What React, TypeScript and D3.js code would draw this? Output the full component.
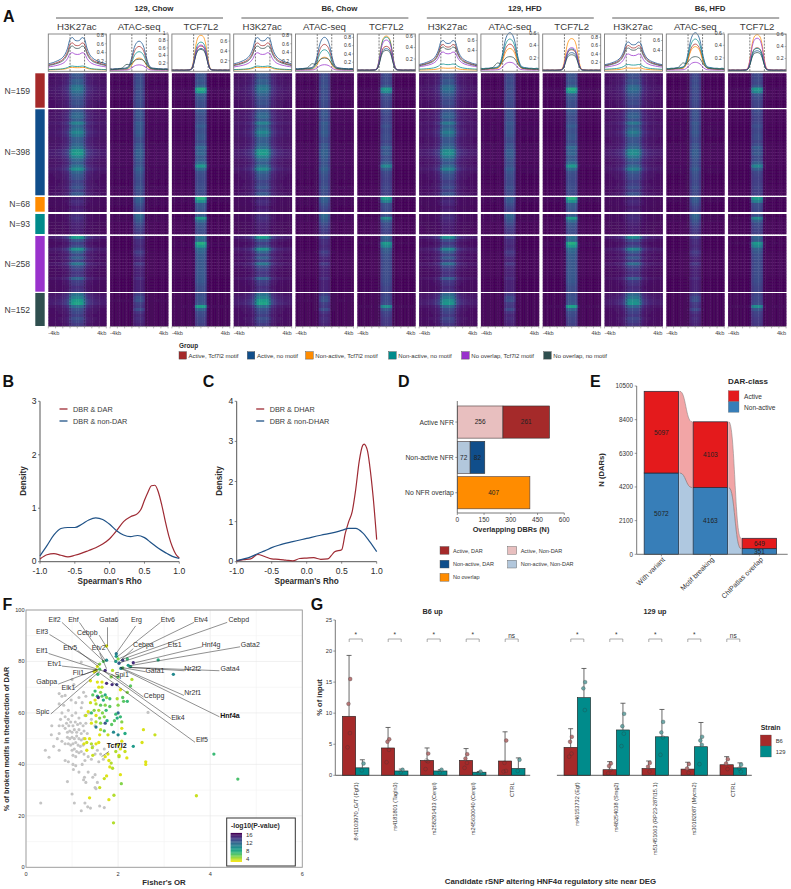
import React from "react";
import * as d3 from "d3";

// ---------- Panel A data ----------
const conditions = ["129, Chow", "B6, Chow", "129, HFD", "B6, HFD"];
const assays = ["H3K27ac", "ATAC-seq", "TCF7L2"];
const groupNames = ["Active, Tcf7l2 motif", "Active, no motif", "Non-active, Tcf7l2 motif", "Non-active, no motif", "No overlap, Tcf7l2 motif", "No overlap, no motif"];
const groupColors = ["#A52A2A", "#104E8B", "#FF8C00", "#008B8B", "#9932CC", "#2F4F4F"];
const groupN = ["N=159", "N=398", "N=68", "N=93", "N=258", "N=152"];
// per-box: peak by group
const peaks = [
  [.62, .74, .07, .1, .4, .55], [.64, .78, .33, .5, .15, .3], [.5, .45, .72, .58, .52, .43],
  [.62, .74, .07, .1, .4, .55], [.63, .8, .32, .5, .14, .3], [.42, .38, .6, .58, .53, .35],
  [.52, .6, .05, .13, .37, .47], [.42, .6, .35, .5, .13, .22], [.5, .43, .77, .52, .55, .38],
  [.5, .57, .05, .12, .33, .45], [.42, .6, .38, .5, .13, .22], [.38, .33, .6, .37, .54, .3],
];
const boxMax = [.82, .97, .745, .82, .88, .635, .73, .58, .88, .73, .58, .61];
const boxTicks = [
  [.2, .4, .6, .8], [.2, .4, .6, .8, 1], [.2, .4, .6], [.2, .4, .6, .8], [.2, .4, .6, .8], [.2, .4, .6],
  [.4, .6], [.2, .4, .6], [.2, .4, .6, .8], [.4, .6], [.2, .4, .6], [.2, .4, .6],
];
const kbPositions = [-4, -3.667, -3.333, -3, -2.667, -2.333, -2, -1.667, -1.333, -1, -.667, -.333, 0, .333, .667, 1, 1.333, 1.667, 2, 2.333, 2.667, 3, 3.333, 3.667, 4];
const h3Shape = [.2, .22, .24, .27, .3, .34, .4, .5, .68, .95, 1, .92, .9, .92, 1, .95, .68, .5, .4, .34, .3, .27, .24, .22, .2];
const atacShape = [.06, .05, .06, .06, .07, .07, .08, .1, .2, .45, .78, .95, 1, .95, .78, .45, .2, .1, .08, .07, .06, .06, .05, .06, .05];
const atacShapeDark = [.08, .08, .1, .12, .16, .22, .42, .55, .5, .62, .85, .97, 1, .97, .85, .55, .3, .18, .14, .12, .12, .1, .1, .09, .08];
const tcfShape = [.015, .01, .015, .01, .015, .01, .015, .02, .05, .3, .75, .96, 1, .96, .75, .3, .05, .02, .015, .01, .015, .01, .015, .01, .015];
const h3Col = [.12, .12, .13, .14, .16, .18, .22, .28, .38, .72, .95, 1, 1, 1, .95, .72, .38, .28, .22, .18, .16, .14, .13, .12, .12];
const atacCol = [.02, .02, .02, .02, .02, .02, .02, .02, .03, .05, .75, 1, 1, 1, .75, .05, .03, .02, .02, .02, .02, .02, .02, .02, .02];
const tcfCol = [.01, .01, .01, .01, .01, .01, .01, .01, .01, .1, .85, 1, 1, 1, .85, .1, .01, .01, .01, .01, .01, .01, .01, .01, .01];
const h3Rows = [
  [.3, .28, .34, .32, .42, .46, .4, .34, .3, .27, .28, .24],
  [.3, .36, .38, .32, .5, .36, .42, .52, .44, .34, .32, .36, .42, .6, .62, .5, .38, .32, .42, .56, .36, .3, .28, .22, .24, .28, .22, .3],
  [.1, .14, .12, .08, .1],
  [.14, .16, .12, .1, .09, .08, .08],
  [.62, .3, .2, .26, .58, .36, .24, .34, .22, .44, .26, .2, .16, .18, .36, .2, .18, .14, .16],
  [.42, .5, .62, .66, .4, .28, .24, .2, .26, .22, .18],
];
const atacRows = [
  [.24, .25, .27, .26, .28, .27, .27, .25, .26, .26, .25, .24],
  [.28, .3, .29, .27, .32, .3, .3, .32, .3, .27, .26, .3, .3, .34, .34, .32, .3, .28, .3, .34, .3, .28, .27, .25, .26, .28, .26, .25],
  [.34, .32, .28, .24, .22],
  [.38, .36, .3, .26, .22, .2, .18],
  [.2, .14, .14, .12, .14, .2, .16, .12, .1, .18, .12, .1, .1, .1, .14, .1, .1, .1, .1],
  [.2, .26, .28, .2, .18, .26, .16, .12, .14, .12, .1],
];
const tcfRows = [
  [.28, .28, .3, .28, .36, .72, .62, .34, .3, .28, .27, .26],
  [.3, .28, .26, .26, .28, .32, .28, .28, .3, .3, .26, .3, .38, .34, .36, .3, .32, .4, .62, .4, .28, .26, .25, .24, .25, .26, .25, .24],
  [.74, .58, .32, .3, .28],
  [.3, .64, .4, .3, .28, .26, .25],
  [.42, .38, .72, .62, .4, .36, .32, .32, .3, .3, .3, .3, .3, .3, .3, .3, .28, .26, .26],
  [.26, .28, .28, .3, .66, .36, .26, .24, .22, .22, .2],
];
const assayRows = [h3Rows, atacRows, tcfRows];
const conditionScale = [[.86, .85, .85], [.86, .85, .73], [.78, .8, .85], [.76, .8, .72]];

// ---------- Panel B / C ----------
const bRed: [number, number][] = [[-1, .05], [-.9, .13], [-.8, .15], [-.7, .12], [-.6, .09], [-.5, .12], [-.4, .16], [-.3, .21], [-.2, .26], [-.1, .33], [0, .43], [.1, .58], [.2, .75], [.3, .84], [.4, .9], [.45, .98], [.5, 1.15], [.55, 1.3], [.6, 1.42], [.65, 1.43], [.7, 1.3], [.75, 1.05], [.8, .75], [.85, .48], [.9, .28], [.95, .14], [1, .07]];
const bBlue: [number, number][] = [[-1, .11], [-.9, .3], [-.8, .5], [-.7, .62], [-.6, .64], [-.5, .64], [-.4, .7], [-.3, .78], [-.2, .82], [-.1, .79], [0, .7], [.1, .58], [.2, .5], [.3, .47], [.4, .49], [.5, .45], [.6, .35], [.7, .25], [.8, .17], [.9, .1], [1, .06]];
const cRed: [number, number][] = [[-1, .02], [-.9, .05], [-.8, .07], [-.7, .18], [-.6, .13], [-.5, .07], [-.4, .06], [-.3, .04], [-.2, .02], [-.1, .08], [0, .09], [.1, .1], [.2, .06], [.3, .07], [.35, .15], [.4, .25], [.5, .3], [.55, .7], [.6, 1.0], [.65, 1.25], [.7, 1.8], [.75, 2.5], [.8, 2.9], [.82, 2.93], [.87, 2.75], [.9, 2.4], [.95, 1.6], [1, .55]];
const cBlue: [number, number][] = [[-1, .03], [-.8, .12], [-.7, .2], [-.6, .27], [-.5, .35], [-.4, .41], [-.2, .5], [0, .58], [.2, .66], [.4, .73], [.5, .78], [.6, .83], [.7, .83], [.8, .72], [.9, .5], [1, .25]];

// ---------- Panel D ----------
const dCats = ["Active NFR", "Non-active NFR", "No NFR overlap"];
const dFirst = [256, 72, 407];
const dSecond = [261, 82, 0];
const dFirstColors = ["#E8BFBF", "#B2C7DC", "#FF8C00"];
const dSecondColors = ["#A52A2A", "#104E8B", "#FF8C00"];
const dLegend = [["Active, DAR", "#A52A2A"], ["Active, Non-DAR", "#E8BFBF"], ["Non-active, DAR", "#104E8B"], ["Non-active, Non-DAR", "#B2C7DC"], ["No overlap", "#FF8C00"]];

// ---------- Panel E ----------
const eCats = ["With variant", "Motif breaking", "ChIPatlas overlap"];
const eNonActive = [5072, 4163, 351];
const eActive = [5097, 4103, 649];

// ---------- Panel F ----------
const fGray: [number, number][] = [
  [.32, 25], [.5, 42.8], [.42, 45.5], [.72, 45.5], [.6, 47], [.55, 51.5], [.56, 55], [.72, 52], [.68, 50], [.78, 49], [.85, 48], [.85, 41.5], [.92, 41], [.9, 33.3], [1.0, 28.5], [1.05, 25], [1.2, 22], [1.34, 23.5], [1.28, 25], [1.4, 23], [1.6, 23.8], [1.7, 23.2],
  [1.02, 40], [1.03, 38], [1.08, 39.5], [1.15, 37], [1.22, 40], [1.28, 41.5], [1.35, 37], [1.27, 35], [1.25, 34], [1.3, 33], [1.45, 35], [1.5, 36], [1.55, 33], [1.5, 31], [1.52, 30.5],
  [1.2, 79.8], [1.0, 73], [1.04, 71], [.72, 67.5], [.78, 66.5], [.85, 66.8], [.72, 63.5], [.82, 63], [.98, 65], [1.08, 64], [1.15, 66], [1.25, 68], [1.22, 64], [1.3, 66.5], [1.2, 62], [.92, 61], [.78, 60], [.85, 58.5], [.75, 57.5], [.92, 57.5], [1.0, 59], [1.08, 60], [1.15, 58], [1.28, 59], [1.36, 60], [1.42, 57.5], [2.65, 60.2], [1.5, 55],
  [.72, 55], [.8, 55], [.85, 54], [.88, 56], [.93, 55], [.97, 56.5], [1.02, 55], [1.07, 56.5], [1.12, 55.5], [1.18, 56], [1.24, 55], [1.3, 56], [.9, 52.5], [.95, 53], [1, 52.5], [1.05, 53.5], [1.1, 52.5], [1.15, 53.5], [1.2, 52], [1.26, 53], [1.33, 52], [.9, 50.5], [.95, 50], [1, 50.5], [1.05, 50], [1.1, 51], [1.15, 50], [1.2, 49.5], [1.25, 50], [.92, 48], [.97, 47.5], [1.02, 48], [1.08, 48.5], [1.13, 47.5], [1.18, 47], [1.24, 47.5], [1.0, 45.5], [1.05, 46], [1.1, 45], [1.15, 44.5], [1.2, 45], [1.26, 44], [1.02, 43.5], [1.08, 43], [1.35, 43], [1.42, 42], [1.5, 44], [1.55, 45.5], [1.62, 44], [1.7, 46], [1.45, 47], [1.58, 41], [1.68, 42],
];
const fColored: [number, number, number][] = [
  [4.6, 34.3, 6.5], [4.08, 44, 7], [3.7, 27.8, 3.5], [3.2, 75, 10], [2.87, 80.6, 8], [2.33, 47, 9], [2.8, 51.5, 3.5], [2.55, 53.5, 3.2], [2.52, 48.5, 3.2], [2.6, 41, 3], [2.6, 40, 3], [2.05, 36, 3], [2.07, 32.5, 5], [1.91, 28, 4], [1.38, 27, 3], [1.8, 26.3, 3], [1.9, 17.3, 4],
  [1.75, 86, 3], [1.96, 83, 11], [1.96, 82, 9], [2.0, 81, 5], [2.1, 80.5, 14], [2.2, 81, 7], [1.95, 80, 9], [2.33, 79.5, 15], [2.02, 79.3, 13], [2.22, 78.5, 9], [2.27, 78, 8], [2.1, 77.5, 6], [2.06, 77.3, 10], [1.75, 80.5, 10], [1.68, 80, 6], [1.6, 79, 5], [1.55, 78, 3], [1.72, 76.5, 15], [1.6, 77, 6], [1.52, 76.5, 3.5], [1.48, 76, 3], [1.56, 75, 7], [1.88, 76.5, 4], [1.85, 74, 5], [2.0, 74, 6], [2.3, 73, 4],
  [1.4, 72.5, 3], [1.55, 72, 3], [1.65, 72, 3], [1.75, 71.5, 15], [1.87, 71, 15], [1.97, 71, 14], [2.27, 70.5, 6], [1.58, 70, 3], [1.65, 70, 3.5], [1.5, 68.5, 7], [1.62, 68, 5], [2.05, 69, 3], [2.2, 68, 5], [1.45, 67, 6], [1.55, 66.5, 8], [1.65, 66.5, 6], [1.72, 67, 8], [1.82, 65.5, 7], [1.98, 65.5, 4], [2.1, 66, 6], [1.5, 65, 3], [1.57, 66, 15], [1.68, 65, 8], [1.75, 66, 5], [1.4, 64, 3.5], [1.52, 63.5, 4], [1.62, 63, 6], [1.72, 63, 5], [1.82, 62.5, 6], [2, 63, 5], [2.12, 64.5, 6], [2.2, 64.5, 7],
  [1.35, 60.5, 3], [1.48, 61, 5], [1.58, 61, 4], [1.66, 60, 5], [1.74, 61, 7], [1.3, 59, 3.5], [1.42, 60, 7], [1.52, 59, 3], [1.6, 58, 5], [1.7, 58.5, 5], [1.76, 57, 8], [2, 60, 12], [1.95, 59.5, 7], [2.05, 58.5, 7], [1.98, 58, 8], [1.92, 57, 6], [2.08, 56.5, 5], [1.42, 56, 3], [1.52, 56.5, 4], [1.62, 56, 5], [1.72, 56, 13], [1.86, 55.5, 6], [1.52, 54.5, 11], [1.62, 53.5, 4], [2.08, 54, 3], [1.7, 53, 6], [1.9, 52.5, 10], [2.0, 51.5, 10], [2.15, 52, 8], [1.78, 51.5, 3.5], [1.6, 51.5, 3], [1.28, 50, 3], [1.38, 50, 3], [1.32, 48.5, 3.5], [1.42, 48, 4], [1.26, 48, 3], [1.52, 48, 3], [1.44, 46.5, 4], [1.58, 48.5, 3], [2.08, 49, 3], [2.0, 47.5, 3], [2.05, 46, 3], [2.15, 45, 3.5], [1.95, 45, 4], [2.02, 43.5, 3], [2.19, 42.5, 3], [2.02, 43, 4], [1.78, 44, 3], [1.72, 43, 3], [1.8, 41.5, 3], [1.85, 40.5, 4], [1.82, 39, 3], [1.88, 38.5, 4], [1.75, 35.5, 3], [1.7, 34.5, 3.5], [1.6, 31, 3.5], [1.32, 45.5, 3], [1.45, 43.5, 3.5],
];
const fLabels: [string, number, number, number, number, number, number, boolean?][] = [
  // name, label x, label y (data units), line start x,y, line end x,y
  ["Elf2", .62, 95.2, .78, 95.2, 1.68, 80.2], ["Ehf", 1.03, 95.2, 1.16, 95.2, 1.74, 79.9], ["Gata6", 1.8, 95.2, 1.77, 93.3, 1.77, 86], ["Erg", 2.4, 95.2, 2.38, 93.8, 1.97, 83.4], ["Etv6", 3.08, 95.2, 2.92, 95.2, 1.98, 81.8], ["Etv4", 3.8, 95.2, 3.65, 95.2, 2.04, 81.2], ["Cebpd", 4.62, 95.2, 4.37, 95.2, 2.1, 80.9],
  ["Elf3", .35, 90.5, .51, 90.5, 1.6, 78.6], ["Cebpb", 1.33, 90.2, 1.59, 90.2, 1.93, 80.3], ["Cebpa", 2.55, 85.7, 2.33, 85, 2.03, 80], ["Ets1", 3.23, 85.7, 3.09, 85.7, 2.04, 79.5], ["Hnf4g", 4.02, 85.7, 3.82, 85.7, 2.37, 79.5], ["Gata2", 4.87, 85.7, 4.65, 85.7, 2.24, 78.3],
  ["Etv5", .96, 84.3, 1.12, 84.3, 1.57, 78], ["Etv2", 1.58, 84.3, 1.6, 83.2, 1.75, 77.2], ["Elf1", .35, 83.1, .49, 83.1, 1.55, 77], ["Etv1", .62, 78.2, .78, 78.2, 1.53, 76.8],
  ["Gata1", 2.8, 75.5, 2.6, 76, 2.06, 77.7], ["Nr2f2", 3.62, 76.2, 3.44, 76.4, 2.22, 77.7], ["Gata4", 4.43, 76.2, 4.2, 76.4, 2.26, 77.7], ["Fli1", 1.14, 74.9, 1.25, 74.9, 1.57, 76.9], ["Spi1", 2.08, 73.9, 1.93, 74.4, 1.6, 76.8],
  ["Gabpa", .45, 71.2, .7, 71.2, 1.55, 76.9], ["Elk1", .92, 69, 1.04, 69.5, 1.56, 76.4], ["Nr2f1", 3.62, 66.8, 3.43, 66.8, 2.04, 77.7], ["Cebpg", 2.78, 65.9, 2.55, 66.2, 1.86, 75], ["Spic", .36, 59.6, .54, 59.6, 1.6, 76.2],
  ["Hnf4a", 4.43, 58.2, 4.2, 58.5, 2.06, 77.3, true], ["Elk4", 3.3, 57.4, 3.15, 57.8, 1.68, 76.4], ["Elf5", 3.82, 48.6, 3.67, 48.6, 1.58, 75.8],
  ["Tcf7l2", 1.97, 46.4, 1.8, 45, 1.64, 43, true],
];
const fLegendTicks = [16, 12, 8, 4];

// ---------- Panel G ----------
const gCatsLeft = ["8:41103970_G/T (Fgf1)", "rs4181801 (Tagln3)", "rs258291433 (Cenpl)", "rs245630040 (Cenpl)", "CTRL"];
const gCatsRight = ["rs46153732 (Egf)", "rs48254038 (Smg2)", "rs51451063 (RP23-287I15.1)", "rs30182087 (Mycm2)", "CTRL"];
const gLeftB6 = [9.5, 4.4, 2.4, 2.4, 2.3];
const gLeft129 = [1.2, .7, .7, .5, 1.1];
const gLeftB6Err = [19.3, 7.7, 4.4, 4.3, 7.0];
const gLeft129Err = [2.5, 1.0, .9, .6, 2.8];
const gRightB6 = [4.5, .9, 1.1, 1.0, 1.7];
const gRight129 = [12.5, 7.3, 6.2, 4.6, 1.2];
const gRightB6Err = [7.5, 2.2, 2.3, 2.1, 3.0];
const gRight129Err = [17.2, 11.6, 10.6, 8.5, 2.0];
const gLeftB6Dots = [[15.5, 11.5, 6.8, 4.5], [5.8, 5.4, 4.1, 2.1], [3.5, 2.4, 2.25, 1.0], [3.4, 2.7, 2.0, 1.2], [5.6, 2.0, .7, .6]];
const gLeft129Dots = [[1.9, .8], [.9, .5], [.9, .5], [.6, .3], [2.5, .7]];
const gRightB6Dots = [[6.2, 5.4, 3.5, 3.0], [1.9, 1.5, .9, .3], [2.0, 1.4, .6], [1.8, 1.1, .4], [2.6, 1.9, 1.0]];
const gRight129Dots = [[15, 14, 10.5], [9.9, 7.9, 6.7, 4.7], [8.6, 6.9, 6.1, 3.3], [6.2, 5.6, 4.9, 1.8], [1.7, 1.1, .6]];
const gSigLeft = ["*", "*", "*", "*", "ns"];
const gSigRight = ["*", "*", "*", "*", "ns"];
const dotJitter = [.4, -.2, .3, -.5];

const FONT = '"Liberation Sans", Arial, sans-serif';
const INK = "#2b2b2b";
const AXIS = "#555";

function Letter({ x, y, t }: { x: number; y: number; t: string }) {
  return <text x={x} y={y} fontSize={16} fontWeight="bold" fill="#111">{t}</text>;
}

function PanelA() {
  const colX = (i: number) => 48.3 + i * 61.8;
  const colW = 58;
  const blocks: [number, number][] = [[73.3, 107.7], [109.3, 195.3], [197, 211.7], [214, 234], [236, 291.7], [293, 326]];
  const kbScale = d3.scaleLinear().domain([-4, 4]).range([0, colW]);
  const cellW = colW / kbPositions.length;
  const colProfiles = [h3Col, atacCol, tcfCol];
  const shapes = [h3Shape, atacShape, tcfShape];
  const cells: React.ReactNode[] = [];
  for (let c = 0; c < 12; c++) {
    const a = c % 3;
    const cond = Math.floor(c / 3);
    blocks.forEach(([y0, y1], b) => {
      const rows = assayRows[a][b];
      const yb = d3.scaleBand<number>().domain(d3.range(rows.length)).range([y0, y1]);
      rows.forEach((rv, r) => {
        colProfiles[a].forEach((p, k) => {
          const t = .015 + rv * conditionScale[cond][a] * p;
          cells.push(<rect key={`${c}-${b}-${r}-${k}`} x={colX(c) + k * cellW} y={yb(r)} width={cellW + .4} height={yb.bandwidth() + .3} fill={d3.interpolateViridis(t)} />);
        });
      });
    });
  }
  const line = d3.line<number>().curve(d3.curveMonotoneX);
  return (
    <g>
      {conditions.map((c, i) => {
        const x0 = 56 + i * 185.4;
        return (
          <g key={c}>
            <text x={x0 + 98} y={10.5} textAnchor="middle" fontSize={7.9} fontWeight="bold" fill={INK}>{c}</text>
            <line x1={x0} x2={x0 + 167} y1={18} y2={18} stroke="#333" strokeWidth={.8} />
          </g>
        );
      })}
      {d3.range(12).map(c => (
        <text key={c} x={colX(c) + colW / 2 + (c % 3 === 0 ? -.5 : 0)} y={29.5} textAnchor="middle" fontSize={9.6} fill="#3a3a3a">{assays[c % 3]}</text>
      ))}
      <g filter="url(#soft)">{cells}</g>
      {d3.range(12).map(c => {
        const a = c % 3;
        const y = d3.scaleLinear().domain([0, boxMax[c]]).range([70.5, 34]);
        const x = (kb: number) => colX(c) + kbScale(kb);
        return (
          <g key={c}>
            {[-1, 1].map(k => (
              <g key={k}>
                <line x1={x(k)} x2={x(k)} y1={34} y2={71.3} stroke="#111" strokeWidth={.55} strokeDasharray="2 1.2" />
                {blocks.map(([y0, y1], b) => <line key={b} x1={x(k)} x2={x(k)} y1={y0} y2={y1} stroke="#111" strokeWidth={.45} strokeDasharray="1.6 1.4" opacity={.6} />)}
              </g>
            ))}
            {groupColors.map((gc, g) => {
              const shp = a === 1 && g === 5 ? atacShapeDark : shapes[a];
              const pts = kbPositions.map((kb, k) => [x(kb), y(shp[k] * peaks[c][g])] as [number, number]);
              return <path key={g} d={line(pts as any) as string} fill="none" stroke={gc} strokeWidth={.75} />;
            })}
            <rect x={colX(c)} y={34} width={colW} height={37.3} fill="none" stroke="#7d7d7d" strokeWidth={.9} />
            {boxTicks[c].map(t => (
              <g key={t}>
                <line x1={colX(c) + colW - 1.5} x2={colX(c) + colW} y1={y(t)} y2={y(t)} stroke="#555" strokeWidth={.4} />
                <text x={colX(c) + colW - 2.5} y={y(t) + 1.8} textAnchor="end" fontSize={5.1} fill="#333">{t === 1 ? "1" : t.toFixed(1)}</text>
              </g>
            ))}
            <line x1={colX(c)} x2={colX(c) + colW} y1={326.6} y2={326.6} stroke="#555" strokeWidth={.5} />
            {d3.range(-4, 5).map(k => <line key={k} x1={x(k)} x2={x(k)} y1={326.6} y2={328.4} stroke="#555" strokeWidth={.4} />)}
            <text x={colX(c)} y={334.5} fontSize={5.7} fill="#444">-4kb</text>
            <text x={colX(c) + colW} y={334.5} textAnchor="end" fontSize={5.7} fill="#444">4kb</text>
          </g>
        );
      })}
      {blocks.map(([y0, y1], b) => (
        <g key={b}>
          <rect x={35.3} y={y0} width={9.4} height={y1 - y0} fill={groupColors[b]} />
          <text x={30} y={(y0 + y1) / 2 + 3} textAnchor="end" fontSize={8.6} fill="#3a3a3a">{groupN[b]}</text>
        </g>
      ))}
      <text x={179} y={348} fontSize={6.4} fontWeight="bold" fill={INK}>Group</text>
      {groupNames.map((g, i) => {
        const sx = [179, 247.3, 305.7, 388.7, 461.7, 543.7][i];
        return (
          <g key={g}>
            <rect x={sx} y={351.7} width={7.5} height={7.4} fill={groupColors[i]} stroke="#444" strokeWidth={.4} />
            <text x={sx + 9.6} y={357.8} fontSize={6} fill="#333">{g}</text>
          </g>
        );
      })}
    </g>
  );
}

function Density({ x0, x1, yMax, red, blue, labels, ticks }: { x0: number; x1: number; yMax: number; red: [number, number][]; blue: [number, number][]; labels: string[]; ticks: number[] }) {
  const x = d3.scaleLinear().domain([-1, 1]).range([x0, x1]);
  const y = d3.scaleLinear().domain([0, yMax]).range([561.7, 401.3]);
  const line = d3.line<[number, number]>().x(d => x(d[0])).y(d => y(d[1])).curve(d3.curveMonotoneX);
  return (
    <g>
      <line x1={x0} x2={x0} y1={401.3} y2={561.7} stroke={AXIS} strokeWidth={1} />
      <line x1={x0} x2={x1} y1={561.7} y2={561.7} stroke={AXIS} strokeWidth={1} />
      {ticks.map(t => (
        <g key={t}>
          <line x1={x0 - 2} x2={x0} y1={y(t)} y2={y(t)} stroke={AXIS} strokeWidth={.7} />
          <text x={x0 - 3.5} y={y(t) + (t === 0 ? 2 : 3)} textAnchor="end" fontSize={8.6} fill={INK}>{t}</text>
        </g>
      ))}
      {[-1, -.5, 0, .5, 1].map(t => (
        <g key={t}>
          <line x1={x(t)} x2={x(t)} y1={561.7} y2={563.7} stroke={AXIS} strokeWidth={.7} />
          <text x={x(t)} y={573.5} textAnchor="middle" fontSize={8.6} fill={INK}>{t.toFixed(1)}</text>
        </g>
      ))}
      <path d={line(red) as string} fill="none" stroke="#9E2A33" strokeWidth={1.2} />
      <path d={line(blue) as string} fill="none" stroke="#1F5287" strokeWidth={1.2} />
      <text x={(x0 + x1) / 2} y={583.5} textAnchor="middle" fontSize={8.2} fontWeight="bold" fill={INK}>Spearman's Rho</text>
      <text transform={`translate(${x0 - 14.5},481) rotate(-90)`} textAnchor="middle" fontSize={8.2} fontWeight="bold" fill={INK}>Density</text>
      {labels.map((l, i) => (
        <g key={l}>
          <line x1={x0 + 19.5} x2={x0 + 27.5} y1={409 + i * 12} y2={409 + i * 12} stroke={i ? "#1F5287" : "#9E2A33"} strokeWidth={1.3} />
          <text x={x0 + 33} y={411.5 + i * 12} fontSize={7.3} fill="#3a3a3a">{l}</text>
        </g>
      ))}
    </g>
  );
}

function PanelD() {
  const x = d3.scaleLinear().domain([0, 600]).range([457.3, 564.3]);
  const y = d3.scaleBand().domain(dCats).range([402.8, 512]).padding(.09);
  return (
    <g>
      {dCats.map((c, i) => {
        const yy = y(c) as number;
        const bw = y.bandwidth();
        const isOne = dSecond[i] === 0;
        return (
          <g key={c}>
            <rect x={x(0)} y={yy} width={x(dFirst[i]) - x(0)} height={bw} fill={dFirstColors[i]} stroke="#4a3a3a" strokeWidth={.6} />
            {!isOne && <rect x={x(dFirst[i])} y={yy} width={x(dFirst[i] + dSecond[i]) - x(dFirst[i])} height={bw} fill={dSecondColors[i]} stroke="#333" strokeWidth={.6} />}
            <text x={x(dFirst[i] / 2)} y={yy + bw / 2 + 2.4} textAnchor="middle" fontSize={6.5} fill="#222">{dFirst[i]}</text>
            {!isOne && <text x={x(dFirst[i] + dSecond[i] / 2)} y={yy + bw / 2 + 2.4} textAnchor="middle" fontSize={6.5} fill="#222">{dSecond[i]}</text>}
            <line x1={x(0) - 2} x2={x(0)} y1={yy + bw / 2} y2={yy + bw / 2} stroke={AXIS} strokeWidth={.6} />
            <text x={x(0) - 3.5} y={yy + bw / 2 + 2.5} textAnchor="end" fontSize={6.8} fill="#333">{c}</text>
          </g>
        );
      })}
      <line x1={x(0)} x2={x(0)} y1={401} y2={513} stroke={AXIS} strokeWidth={.8} />
      <line x1={x(0)} x2={x(600)} y1={513} y2={513} stroke={AXIS} strokeWidth={.8} />
      {[0, 150, 300, 450, 600].map(t => (
        <g key={t}>
          <line x1={x(t)} x2={x(t)} y1={513} y2={515} stroke={AXIS} strokeWidth={.6} />
          <text x={x(t)} y={522} textAnchor="middle" fontSize={6.5} fill="#333">{t}</text>
        </g>
      ))}
      <text x={511} y={532} textAnchor="middle" fontSize={7.3} fontWeight="bold" fill={INK}>Overlapping DBRs (N)</text>
      {dLegend.map(([l, col], i) => {
        const sx = i % 2 ? 507.7 : 440;
        const sy = [546.5, 546.5, 560.2, 560.2, 573.4][i];
        return (
          <g key={l}>
            <rect x={sx} y={sy} width={9} height={7.8} fill={col} stroke="#555" strokeWidth={.4} />
            <text x={sx + 13} y={sy + 6} fontSize={5.5} fill="#333">{l}</text>
          </g>
        );
      })}
    </g>
  );
}

function PanelE() {
  const y = d3.scaleLinear().domain([0, 10500]).range([554.3, 386]);
  const x = d3.scaleBand().domain(eCats).range([636.9, 783.9]).paddingInner(.296).paddingOuter(.148);
  const bw = x.bandwidth();
  const flow = d3.area<any>().x((d: any) => d[0]).y0((d: any) => y(d[1])).y1((d: any) => y(d[2])).curve(d3.curveBumpX);
  return (
    <g>
      {d3.range(2).map(i => {
        const a = (x(eCats[i]) as number) + bw;
        const b = x(eCats[i + 1]) as number;
        const m1 = a + (b - a) * .08;
        const m2 = b - (b - a) * .08;
        const ptsBlue = [[m1, 0, eNonActive[i]], [m2, 0, eNonActive[i + 1]]];
        const ptsRed = [[m1, eNonActive[i], eNonActive[i] + eActive[i]], [m2, eNonActive[i + 1], eNonActive[i + 1] + eActive[i + 1]]];
        return (
          <g key={i}>
            <rect x={a} y={y(eNonActive[i])} width={m1 - a} height={y(0) - y(eNonActive[i])} fill="#AFC8E0" />
            <rect x={a} y={y(eNonActive[i] + eActive[i])} width={m1 - a} height={y(0) - y(eActive[i])} fill="#F2A5A6" />
            <rect x={m2} y={y(eNonActive[i + 1])} width={b - m2} height={y(0) - y(eNonActive[i + 1])} fill="#AFC8E0" />
            <rect x={m2} y={y(eNonActive[i + 1] + eActive[i + 1])} width={b - m2} height={y(0) - y(eActive[i + 1])} fill="#F2A5A6" />
            <path d={flow(ptsBlue) as string} fill="#AFC8E0" />
            <path d={flow(ptsRed) as string} fill="#F2A5A6" />
            <path d={d3.line<any>().x((d: any) => d[0]).y((d: any) => y(d[2])).curve(d3.curveBumpX)(ptsBlue) as string} fill="none" stroke="#555" strokeWidth={.5} />
            <path d={d3.line<any>().x((d: any) => d[0]).y((d: any) => y(d[2])).curve(d3.curveBumpX)(ptsRed) as string} fill="none" stroke="#777" strokeWidth={.5} />
          </g>
        );
      })}
      {eCats.map((c, i) => {
        const xx = x(c) as number;
        return (
          <g key={c}>
            <rect x={xx} y={y(eNonActive[i])} width={bw} height={y(0) - y(eNonActive[i])} fill="#377EB8" stroke="#1f2a3a" strokeWidth={.7} />
            <rect x={xx} y={y(eNonActive[i] + eActive[i])} width={bw} height={y(0) - y(eActive[i])} fill="#E41A1C" stroke="#1f2a3a" strokeWidth={.7} />
            <text x={xx + bw / 2} y={y(eNonActive[i] / 2) + 2.4} textAnchor="middle" fontSize={6.6} fill="#222">{eNonActive[i]}</text>
            <text x={xx + bw / 2} y={y(eNonActive[i] + eActive[i] / 2) + 2.4} textAnchor="middle" fontSize={6.6} fill="#222">{eActive[i]}</text>
            <line x1={xx + bw / 2} x2={xx + bw / 2} y1={554.3} y2={556.3} stroke={AXIS} strokeWidth={.6} />
            <text transform={`translate(${xx + bw / 2 + 4},560) rotate(-45)`} textAnchor="end" fontSize={7} fill="#333">{c}</text>
          </g>
        );
      })}
      <line x1={636.7} x2={636.7} y1={386} y2={554.3} stroke={AXIS} strokeWidth={.8} />
      <line x1={636.7} x2={787.7} y1={554.3} y2={554.3} stroke={AXIS} strokeWidth={.8} />
      {[0, 2100, 4200, 6300, 8400, 10500].map(t => (
        <g key={t}>
          <line x1={634.7} x2={636.7} y1={y(t)} y2={y(t)} stroke={AXIS} strokeWidth={.6} />
          <text x={633} y={y(t) + 2.2} textAnchor="end" fontSize={6.3} fill="#333">{t}</text>
        </g>
      ))}
      <text transform="translate(604,470) rotate(-90)" textAnchor="middle" fontSize={7.6} fontWeight="bold" fill={INK}>N (DARs)</text>
      <text x={728} y={384} fontSize={8} fontWeight="bold" fill={INK}>DAR-class</text>
      <rect x={728.3} y={390.7} width={10.7} height={11} fill="#E41A1C" stroke="#666" strokeWidth={.3} />
      <rect x={728.3} y={401.7} width={10.7} height={10.6} fill="#377EB8" stroke="#666" strokeWidth={.3} />
      <text x={744} y={398.5} fontSize={6.6} fill="#333">Active</text>
      <text x={744} y={409.5} fontSize={6.6} fill="#333">Non-active</text>
    </g>
  );
}

function PanelF() {
  const x = d3.scaleLinear().domain([0, 6]).range([26, 302.3]);
  const y = d3.scaleLinear().domain([0, 100]).range([867.3, 610]);
  const pc = d3.scaleSequential((t: number) => d3.interpolateViridis(1 - t)).domain([2.3, 16.9]);
  const cb = d3.scaleLinear().domain([2.3, 16.9]).range([861.7, 833.3]);
  return (
    <g>
      {d3.range(0, 6.5, 1).map(v => <line key={v} x1={x(v)} x2={x(v)} y1={y(0)} y2={y(100)} stroke={v % 2 === 0 ? "#e6e6e6" : "#f2f2f2"} strokeWidth={.6} />)}
      {d3.range(0, 101, 10).map(v => <line key={v} x1={x(0)} x2={x(6)} y1={y(v)} y2={y(v)} stroke={v % 20 === 0 ? "#e6e6e6" : "#f2f2f2"} strokeWidth={.6} />)}
      <rect x={x(0)} y={y(100)} width={x(6) - x(0)} height={y(0) - y(100)} fill="none" stroke="#9a9a9a" strokeWidth={.9} />
      {fGray.map((p, i) => <circle key={i} cx={x(p[0])} cy={y(p[1])} r={1.55} fill="#C4C4C4" />)}
      {fColored.map((p, i) => <circle key={i} cx={x(p[0])} cy={y(p[1])} r={1.65} fill={pc(p[2])} />)}
      {fLabels.map(l => (
        <g key={l[0]}>
          <line x1={x(l[3])} y1={y(l[4])} x2={x(l[5])} y2={y(l[6])} stroke="#222" strokeWidth={.5} />
          <text x={x(l[1])} y={y(l[2])} textAnchor="middle" fontSize={7} fontWeight={l[7] ? "bold" : "normal"} fill={l[7] ? "#111" : "#333"}>{l[0]}</text>
        </g>
      ))}
      {[0, 2, 4, 6].map(t => <text key={t} x={x(t)} y={875.5} textAnchor="middle" fontSize={5.6} fill="#333">{t}</text>)}
      {[0, 20, 40, 60, 80, 100].map(t => <text key={t} x={24.5} y={y(t) + 2} textAnchor="end" fontSize={5.6} fill="#333">{t}</text>)}
      <text x={164} y={885} textAnchor="middle" fontSize={7.8} fontWeight="bold" fill={INK}>Fisher's OR</text>
      <text transform="translate(8.5,739) rotate(-90)" textAnchor="middle" fontSize={7.3} fontWeight="bold" fill={INK}>% of broken motifs in thedirection of DAR</text>
      <rect x={226.7} y={818} width={68.6} height={48} fill="#fff" stroke="#333" strokeWidth={1} />
      <text x={231} y={828} fontSize={6.8} fontWeight="bold" fill={INK}>-log10(P-value)</text>
      {d3.range(2.3, 16.9, .4).map(v => <rect key={v} x={230.7} y={cb(v + .4)} width={11.3} height={cb(v) - cb(v + .4) + .3} fill={pc(v + .2)} />)}
      {fLegendTicks.map(t => <text key={t} x={246} y={cb(t) + 2.2} fontSize={6} fill="#333">{t}</text>)}
    </g>
  );
}

function Bars({ x0, x1, cats, b6, s129, b6Err, s129Err, b6Dots, s129Dots, sig, title, titleX }: any) {
  const y = d3.scaleLinear().domain([0, 25]).range([775.3, 620]);
  const x = d3.scaleBand().domain(cats.map((c: string, i: number) => i + c)).range([x0, x1]);
  const w = 13.3;
  const series = [
    { v: b6, e: b6Err, d: b6Dots, col: "#A52A2A", dx: -w },
    { v: s129, e: s129Err, d: s129Dots, col: "#008B8B", dx: 0 },
  ];
  return (
    <g>
      <text x={titleX} y={614} textAnchor="middle" fontSize={7.3} fontWeight="bold" fill={INK}>{title}</text>
      {cats.map((c: string, i: number) => {
        const cx = (x(i + c) as number) + x.bandwidth() / 2;
        return (
          <g key={i}>
            <path d={`M${cx - 6.5},642 V639 H${cx + 6.5} V642`} fill="none" stroke="#888" strokeWidth={.7} />
            <text x={cx} y={sig[i] === "ns" ? 638 : 637} textAnchor="middle" fontSize={6.5} fill="#333">{sig[i]}</text>
            {series.map((s, k) => {
              const bx = cx + s.dx;
              const mx = bx + w / 2;
              return (
                <g key={k}>
                  <rect x={bx} y={y(s.v[i])} width={w} height={y(0) - y(s.v[i])} fill={s.col} stroke="#222" strokeWidth={.6} />
                  <line x1={mx} x2={mx} y1={y(s.v[i])} y2={y(s.e[i])} stroke="#444" strokeWidth={.8} />
                  <line x1={mx - 2.5} x2={mx + 2.5} y1={y(s.e[i])} y2={y(s.e[i])} stroke="#444" strokeWidth={.8} />
                  {s.d[i].map((v: number, j: number) => (
                    <circle key={j} cx={mx + dotJitter[j] * 3} cy={y(v)} r={1.9} fill={k ? "#5f9f9f" : "#b06a6a"} fillOpacity={y(v) < y(s.v[i]) ? .9 : 0} stroke="#333" strokeOpacity={.55} strokeWidth={.5} />
                  ))}
                </g>
              );
            })}
            <text transform={`translate(${cx + 2},782.5) rotate(-90)`} textAnchor="end" fontSize={5.6} fill="#333">{c}</text>
          </g>
        );
      })}
      <line x1={x0 - .9} x2={x1 - 1} y1={775.3} y2={775.3} stroke="#333" strokeWidth={.8} />
    </g>
  );
}

function PanelG() {
  const y = d3.scaleLinear().domain([0, 25]).range([775.3, 620]);
  return (
    <g>
      <Bars x0={336.2} x1={531.2} cats={gCatsLeft} b6={gLeftB6} s129={gLeft129} b6Err={gLeftB6Err} s129Err={gLeft129Err} b6Dots={gLeftB6Dots} s129Dots={gLeft129Dots} sig={gSigLeft} title="B6 up" titleX={432.7} />
      <Bars x0={557.8} x1={752.8} cats={gCatsRight} b6={gRightB6} s129={gRight129} b6Err={gRightB6Err} s129Err={gRight129Err} b6Dots={gRightB6Dots} s129Dots={gRight129Dots} sig={gSigRight} title="129 up" titleX={655} />
      <line x1={335.3} x2={335.3} y1={620} y2={775.3} stroke="#555" strokeWidth={.8} />
      {[0, 5, 10, 15, 20, 25].map(t => (
        <g key={t}>
          <line x1={333.3} x2={335.3} y1={y(t)} y2={y(t)} stroke="#555" strokeWidth={.6} />
          <text x={332} y={y(t) + 2} textAnchor="end" fontSize={5.6} fill="#333">{t}</text>
        </g>
      ))}
      <text transform="translate(321.5,697.5) rotate(-90)" textAnchor="middle" fontSize={7.6} fontWeight="bold" fill={INK}>% of input</text>
      <text x={550.5} y={884} textAnchor="middle" fontSize={7.85} fontWeight="bold" fill={INK}>Candidate rSNP altering HNF4α regulatory site near DEG</text>
      <text x={760.7} y={729.5} fontSize={7} fontWeight="bold" fill={INK}>Strain</text>
      <rect x={760.3} y={735} width={11} height={11} fill="#A52A2A" stroke="#555" strokeWidth={.3} />
      <rect x={760.3} y={746} width={11} height={11} fill="#008B8B" stroke="#555" strokeWidth={.3} />
      <text x={775.7} y={743} fontSize={5.8} fill="#333">B6</text>
      <text x={775.7} y={754} fontSize={5.8} fill="#333">129</text>
    </g>
  );
}

export default function App() {
  return (
    <svg width={791} height={889} viewBox="0 0 791 889" fontFamily={FONT} style={{ position: "absolute", left: 0, top: 0, background: "#fff" }}>
      <defs>
        <filter id="soft" x="0" y="0" width="100%" height="100%"><feGaussianBlur stdDeviation="0.35" /></filter>
      </defs>
      <Letter x={3} y={22} t="A" />
      <Letter x={2.5} y={387} t="B" />
      <Letter x={202.7} y={387} t="C" />
      <Letter x={398} y={387} t="D" />
      <Letter x={590} y={387} t="E" />
      <Letter x={2.5} y={610} t="F" />
      <Letter x={310.7} y={610} t="G" />
      <PanelA />
      <Density x0={40} x1={179.3} yMax={3} red={bRed} blue={bBlue} labels={["DBR & DAR", "DBR & non-DAR"]} ticks={[0, 1, 2, 3]} />
      <Density x0={236.7} x1={376.7} yMax={4} red={cRed} blue={cBlue} labels={["DBR & DHAR", "DBR & non-DHAR"]} ticks={[0, 1, 2, 3, 4]} />
      <PanelD />
      <PanelE />
      <PanelF />
      <PanelG />
    </svg>
  );
}
